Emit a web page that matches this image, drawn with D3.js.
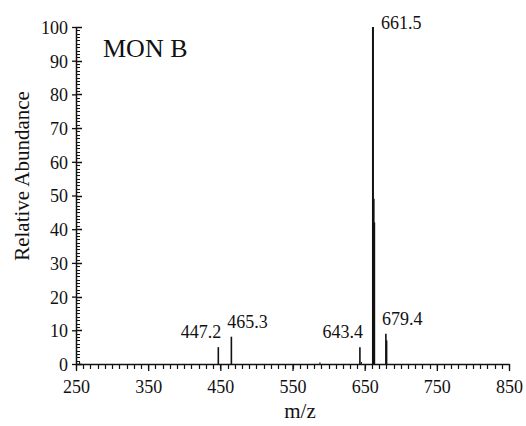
<!DOCTYPE html>
<html>
<head>
<meta charset="utf-8">
<script src="https://cdn.jsdelivr.net/npm/d3@7"></script>
</head>
<body style="margin:0;background:#fff">
<svg id="chart" width="526" height="426"></svg>
<script>
// spectrum peaks (m/z, relative abundance)
var peakMz        = [255, 447.2, 465.3, 588, 643.4, 645.5, 661.5, 662.4, 663.2, 679.4, 680.4];
var peakIntensity = [0.7, 5.0,   8.1,   0.5, 5.0,  0.6,   100,   49,    42,    9,     7];
var peakWidth     = [1,   1.6,   1.6,   1,   1.6,  1,     2,     2,     2,     1.6,   1.6];

// labelled peaks
var labelMz    = [447.2, 465.3, 643.4, 661.5, 679.4];
var labelText  = ["447.2", "465.3", "643.4", "661.5", "679.4"];
var labelY     = [5.0, 8.1, 5.0, 100, 9];
var labelAlign = ["end", "start", "end", "start", "start"];

var xMajor = [250, 350, 450, 550, 650, 750, 850];
var yMajor = [0, 10, 20, 30, 40, 50, 60, 70, 80, 90, 100];

var FONT = "Liberation Serif";
var INK = "#111";

var svg = d3.select("#chart");
var margin = {left: 76, top: 27, right: 17, bottom: 62};
var width = 526 - margin.left - margin.right,
    height = 426 - margin.top - margin.bottom;

var x = d3.scaleLinear().domain([250, 850]).range([margin.left, margin.left + width]);
var y = d3.scaleLinear().domain([0, 100]).range([margin.top + height, margin.top]);
var y0 = y(0), x0 = x(250);

// minor ticks, every 10 on x and every 1 on y (drawn as paths)
var xMinor = d3.range(250, 851, 10);
var yMinor = d3.range(0, 101, 1);
svg.append("path")
  .attr("d", xMinor.map(d => "M" + (Math.round(x(d)) + 0.5) + "," + y0 + "v5").join(""))
  .attr("fill", "none").attr("stroke", INK).attr("stroke-width", 1.2);
svg.append("path")
  .attr("d", yMinor.map(d => "M" + x0 + "," + (Math.round(y(d)) + 0.5) + "h4").join(""))
  .attr("fill", "none").attr("stroke", INK).attr("stroke-width", 1.2);

// major axes with labels
var xa = svg.append("g")
  .attr("transform", "translate(0," + y0 + ")")
  .call(d3.axisBottom(x).tickValues(xMajor).tickSize(7).tickPadding(8).tickSizeOuter(0));
xa.attr("font-family", FONT);
xa.select(".domain").attr("stroke", INK).attr("stroke-width", 1.5);
xa.selectAll(".tick line").attr("stroke", INK).attr("stroke-width", 1.3);
xa.selectAll("text").attr("font-size", 18).attr("fill", INK).attr("dy", "0.75em");

var ya = svg.append("g")
  .attr("transform", "translate(" + x0 + ",0)")
  .call(d3.axisLeft(y).tickValues(yMajor).tickSize(4).tickPadding(4).tickSizeOuter(0));
ya.attr("font-family", FONT);
ya.select(".domain").attr("stroke", INK).attr("stroke-width", 1.5);
ya.selectAll(".tick line").attr("stroke", INK).attr("stroke-width", 1.3);
ya.selectAll("text").attr("font-size", 18).attr("fill", INK).attr("dy", "0.36em");
svg.append("path")
  .attr("d", yMajor.map(d => "M" + x0 + "," + (Math.round(y(d)) + 0.5) + "h6").join(""))
  .attr("fill", "none").attr("stroke", INK).attr("stroke-width", 1.3);

// peaks
svg.selectAll(".peak")
  .data(peakMz)
  .enter().append("line")
    .attr("class", "peak")
    .attr("x1", d => x(d))
    .attr("x2", d => x(d))
    .attr("y1", y0)
    .attr("y2", (d, i) => y(peakIntensity[i]))
    .attr("stroke", INK)
    .attr("stroke-width", (d, i) => peakWidth[i]);

// peak labels
svg.selectAll(".plabel")
  .data(labelMz)
  .enter().append("text")
    .attr("class", "plabel")
    .attr("x", (d, i) => labelAlign[i] == "end" ? x(d) + 3 : x(d) - 4 + (i == 3 ? 12 : 0))
    .attr("y", (d, i) => y(labelY[i]) - (i == 3 ? -2 : 9))
    .attr("text-anchor", (d, i) => labelAlign[i])
    .attr("font-family", FONT)
    .attr("font-size", 18)
    .attr("fill", INK)
    .text((d, i) => labelText[i]);

// title inside the plot
svg.append("text")
  .attr("x", margin.left + 27)
  .attr("y", margin.top + 30)
  .attr("font-family", FONT)
  .attr("font-size", 26)
  .attr("fill", INK)
  .text("MON B");

// axis titles
svg.append("text")
  .attr("transform", "translate(29,176) rotate(-90)")
  .attr("text-anchor", "middle")
  .attr("font-family", FONT)
  .attr("font-size", 21)
  .attr("fill", INK)
  .text("Relative Abundance");

svg.append("text")
  .attr("x", 300)
  .attr("y", 418)
  .attr("text-anchor", "middle")
  .attr("font-family", FONT)
  .attr("font-size", 21)
  .attr("fill", INK)
  .text("m/z");
</script>
</body>
</html>
